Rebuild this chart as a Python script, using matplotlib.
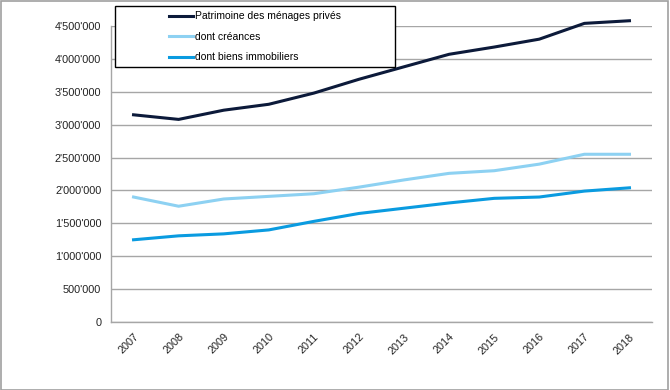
import matplotlib.pyplot as plt
from matplotlib.patches import Rectangle
from matplotlib.ticker import FuncFormatter

years = ["2007", "2008", "2009", "2010", "2011", "2012",
         "2013", "2014", "2015", "2016", "2017", "2018"]
patrimoine = [3150000, 3080000, 3220000, 3310000, 3480000, 3690000,
              3880000, 4070000, 4180000, 4300000, 4540000, 4580000]
creances = [1900000, 1760000, 1870000, 1910000, 1950000, 2050000,
            2160000, 2260000, 2300000, 2400000, 2550000, 2550000]
immobiliers = [1250000, 1310000, 1340000, 1400000, 1530000, 1650000,
               1730000, 1810000, 1880000, 1900000, 1990000, 2040000]
labels = ["Patrimoine des ménages privés", "dont créances", "dont biens immobiliers"]
colors = ["#0c1a3a", "#8dd1f2", "#0a9be0"]

plt.rcParams['font.family'] = ['Liberation Sans Narrow', 'Liberation Sans', 'DejaVu Sans']

W, H = 670, 390
fig = plt.figure(figsize=(W / 100, H / 100), dpi=100)
ax = fig.add_axes([111 / W, 1 - 322 / H, 541 / W, (322 - 26) / H])

x = range(len(years))
for vals, lab, col in zip([patrimoine, creances, immobiliers], labels, colors):
    ax.plot(x, vals, color=col, lw=2.2, label=lab, solid_joinstyle='round', clip_on=False)

ax.set_xlim(-0.5, len(years) - 0.5)
ax.set_ylim(0, 4500000)
ax.set_yticks(range(0, 4500001, 500000))
ax.yaxis.set_major_formatter(FuncFormatter(lambda v, p: f"{int(v):,}".replace(",", "'")))
ax.set_xticks(list(x))
ax.set_xticklabels(years, rotation=45, ha='right', rotation_mode='anchor')
ax.tick_params(axis='both', length=0, labelsize=7.8, colors='#222222')
ax.tick_params(axis='x', pad=7)
ax.tick_params(axis='y', pad=7)
ax.grid(axis='y', color='#a6a6a6', lw=1)
ax.set_axisbelow(True)
for s in ['top', 'right']:
    ax.spines[s].set_visible(False)
for s in ['left', 'bottom']:
    ax.spines[s].set_color('#a6a6a6')
    ax.spines[s].set_linewidth(1)

# legend box
fig.patches.append(Rectangle((115 / W, 1 - 67 / H), 280 / W, 61 / H, transform=fig.transFigure,
                             facecolor='white', edgecolor='black', lw=1, zorder=4))
leg = fig.legend(loc='upper left', bbox_to_anchor=(160 / W, 1 - 2 / H), frameon=False,
                 fontsize=7.5, handlelength=2.3, handletextpad=0.2, labelspacing=1.0)
leg.set_zorder(6)

# outer frame
fig.patches.append(Rectangle((0.5 / W, 0.5 / H), (W - 2.5) / W, (H - 1.5) / H,
                             transform=fig.transFigure, fill=False, edgecolor='#a0a0a0', lw=1.2))

fig.savefig('out.png', dpi=100)
